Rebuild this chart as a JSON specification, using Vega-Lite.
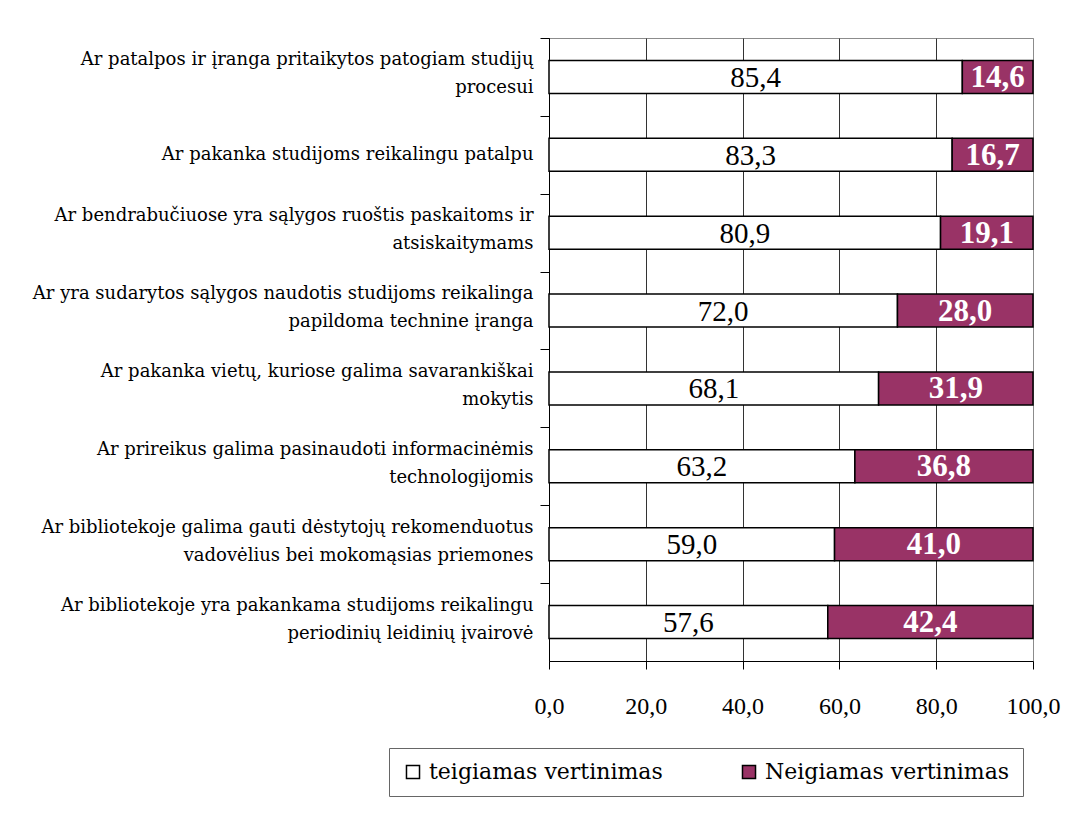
{
  "$schema": "https://vega.github.io/schema/vega-lite/v6.json",
  "width": 484,
  "height": 623,
  "autosize": {"type": "none"},
  "padding": {"left": 549, "top": 38, "right": 41, "bottom": 153},
  "background": "white",
  "config": {
    "locale": {"number": {"decimal": ",", "thousands": ".", "grouping": [3], "currency": ["", " €"]}},
    "font": "DejaVu Serif",
    "view": {"stroke": "#8c8c8c", "strokeWidth": 1}
  },
  "data": {
    "values": [
      {"q": "Ar patalpos ir įranga pritaikytos patogiam studijų\nprocesui", "tipas": "teigiamas vertinimas", "v": 85.4},
      {"q": "Ar patalpos ir įranga pritaikytos patogiam studijų\nprocesui", "tipas": "Neigiamas vertinimas", "v": 14.6},
      {"q": "Ar pakanka studijoms reikalingu patalpu", "tipas": "teigiamas vertinimas", "v": 83.3},
      {"q": "Ar pakanka studijoms reikalingu patalpu", "tipas": "Neigiamas vertinimas", "v": 16.7},
      {"q": "Ar bendrabučiuose yra sąlygos ruoštis paskaitoms ir\natsiskaitymams", "tipas": "teigiamas vertinimas", "v": 80.9},
      {"q": "Ar bendrabučiuose yra sąlygos ruoštis paskaitoms ir\natsiskaitymams", "tipas": "Neigiamas vertinimas", "v": 19.1},
      {"q": "Ar yra sudarytos sąlygos naudotis studijoms reikalinga\npapildoma technine įranga", "tipas": "teigiamas vertinimas", "v": 72.0},
      {"q": "Ar yra sudarytos sąlygos naudotis studijoms reikalinga\npapildoma technine įranga", "tipas": "Neigiamas vertinimas", "v": 28.0},
      {"q": "Ar pakanka vietų, kuriose galima savarankiškai\nmokytis", "tipas": "teigiamas vertinimas", "v": 68.1},
      {"q": "Ar pakanka vietų, kuriose galima savarankiškai\nmokytis", "tipas": "Neigiamas vertinimas", "v": 31.9},
      {"q": "Ar prireikus galima pasinaudoti informacinėmis\ntechnologijomis", "tipas": "teigiamas vertinimas", "v": 63.2},
      {"q": "Ar prireikus galima pasinaudoti informacinėmis\ntechnologijomis", "tipas": "Neigiamas vertinimas", "v": 36.8},
      {"q": "Ar bibliotekoje galima gauti dėstytojų rekomenduotus\nvadovėlius bei mokomąsias priemones", "tipas": "teigiamas vertinimas", "v": 59.0},
      {"q": "Ar bibliotekoje galima gauti dėstytojų rekomenduotus\nvadovėlius bei mokomąsias priemones", "tipas": "Neigiamas vertinimas", "v": 41.0},
      {"q": "Ar bibliotekoje yra pakankama studijoms reikalingu\nperiodinių leidinių įvairovė", "tipas": "teigiamas vertinimas", "v": 57.6},
      {"q": "Ar bibliotekoje yra pakankama studijoms reikalingu\nperiodinių leidinių įvairovė", "tipas": "Neigiamas vertinimas", "v": 42.4}
    ]
  },
  "transform": [
    {"stack": "v", "groupby": ["q"], "sort": [{"field": "tipas", "order": "descending"}], "as": ["v0", "v1"]},
    {"calculate": "(datum.v0 + datum.v1) / 2", "as": "mid"}
  ],
  "encoding": {
    "y": {
      "field": "q",
      "type": "nominal",
      "sort": null,
      "title": null,
      "scale": {"paddingInner": 0.575, "paddingOuter": 0.2875},
      "axis": {
        "labelExpr": "split(datum.label, '\\n')",
        "labelFont": "DejaVu Serif",
        "labelFontSize": 18,
        "labelLineHeight": 28,
        "labelOffset": {"condition": {"test": "indexof(datum.label, '\\n') >= 0", "value": 22}, "value": 39},
        "labelColor": "black",
        "labelLimit": 0,
        "labelPadding": 7,
        "tickSize": 9,
        "tickColor": "black",
        "tickWidth": 1,
        "tickOffset": -39,
        "domainColor": "black",
        "domainWidth": 1,
        "grid": false
      }
    }
  },
  "layer": [
    {
      "mark": {"type": "bar", "stroke": "black", "strokeWidth": 1.5},
      "encoding": {
        "x": {
          "field": "v0",
          "type": "quantitative",
          "title": null,
          "scale": {"domain": [0, 100], "nice": false},
          "axis": {
            "values": [0, 20, 40, 60, 80, 100],
            "format": ".1f",
            "labelFont": "Liberation Serif",
            "labelFontSize": 24,
            "labelColor": "black",
            "labelPadding": 25,
            "labelFlush": false,
            "labelBound": false,
            "labelOverlap": false,
            "tickSize": 8,
            "tickColor": "black",
            "domainColor": "black",
            "grid": true,
            "gridColor": {"condition": {"test": "datum.value == 100", "value": "#8c8c8c"}, "value": "#333333"},
            "gridWidth": 1
          }
        },
        "x2": {"field": "v1"},
        "color": {
          "field": "tipas",
          "type": "nominal",
          "scale": {"domain": ["teigiamas vertinimas", "Neigiamas vertinimas"], "range": ["#ffffff", "#993366"]},
          "legend": {
            "title": null,
            "orient": "none",
            "direction": "horizontal",
            "legendX": -160,
            "legendY": 710,
            "padding": 13,
            "strokeColor": "#666666",
            "fillColor": "white",
            "labelFont": "DejaVu Serif",
            "labelFontSize": 22,
            "labelColor": "black",
            "labelOffset": 5,
            "symbolType": "square",
            "symbolSize": 170,
            "symbolStrokeColor": "black",
            "symbolStrokeWidth": 1.5,
            "symbolOpacity": 1,
            "columnPadding": 75,
            "labelLimit": 0
          }
        }
      }
    },
    {
      "transform": [{"filter": "datum.tipas == 'teigiamas vertinimas'"}],
      "mark": {"type": "text", "font": "Liberation Serif", "fontSize": 29, "color": "black", "align": "center", "baseline": "middle", "dy": 1},
      "encoding": {
        "x": {"field": "mid", "type": "quantitative"},
        "text": {"field": "v", "type": "quantitative", "format": ".1f"}
      }
    },
    {
      "transform": [{"filter": "datum.tipas == 'Neigiamas vertinimas'"}],
      "mark": {"type": "text", "font": "Liberation Serif", "fontSize": 31, "fontWeight": "bold", "color": "white", "align": "center", "baseline": "middle", "dy": 1},
      "encoding": {
        "x": {"field": "mid", "type": "quantitative"},
        "text": {"field": "v", "type": "quantitative", "format": ".1f"}
      }
    }
  ]
}
